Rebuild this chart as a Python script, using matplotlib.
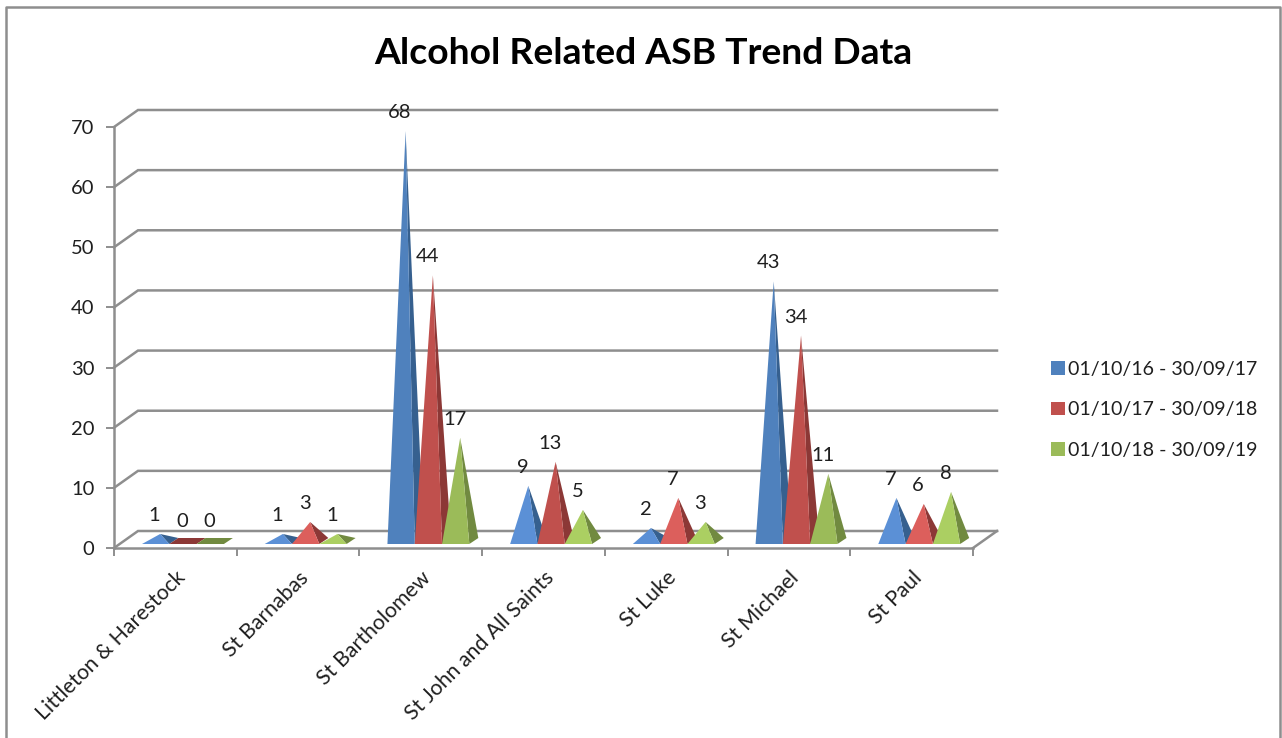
import matplotlib
matplotlib.use('Agg')
import matplotlib.pyplot as plt
from matplotlib.lines import Line2D
from matplotlib.patches import Patch, Polygon

plt.rcParams['font.family'] = ['Lato', 'DejaVu Sans']

#___Datos
categories = ['Littleton & Harestock', 'St Barnabas', 'St Bartholomew',
              'St John and All Saints', 'St Luke', 'St Michael', 'St Paul']
series_names = ['01/10/16 - 30/09/17', '01/10/17 - 30/09/18', '01/10/18 - 30/09/19']
values_1617 = [1, 1, 68, 9, 2, 43, 7]
values_1718 = [0, 3, 44, 13, 7, 34, 6]
values_1819 = [0, 1, 17, 5, 3, 11, 8]
y_ticks = [0, 10, 20, 30, 40, 50, 60, 70]

#___Colores: base, claro (piramides pequenas), lado
blue = ('#4f81bd', '#5b90d6', '#36608f')
red = ('#c0504d', '#dc5f5c', '#8c3836')
green = ('#9bbb59', '#abcf62', '#718a40')
grid_color = '#8e8e8e'
text_color = '#1f1f1f'

W, H = 1282, 738
fig = plt.figure(figsize=(W / 100, H / 100), dpi=100, facecolor='white')

# ejes sobre la pared frontal, en pixeles de la imagen
x0, x1, y0, y1 = 114, 973, 548, 127
ax = fig.add_axes([x0 / W, 1 - y0 / H, (x1 - x0) / W, (y0 - y1) / H])
ax.set_xlim(0, 7)
ax.set_ylim(0, 70)
ax.patch.set_visible(False)

px = 7 / (x1 - x0)    # un pixel en unidades de categoria
py = 70 / (y0 - y1)   # un pixel en unidades de valor
depth_x, depth_y = 24 * px, 17 * py

#___Pared del fondo
for t in y_ticks:
    ax.plot([0, depth_x, 7 + depth_x], [t, t + depth_y, t + depth_y], color=grid_color,
            lw=1.8, clip_on=False, zorder=1, solid_joinstyle='miter')
ax.plot([7, 7 + depth_x], [0, depth_y], color=grid_color, lw=1.8, clip_on=False, zorder=1)

#___Piramides
width = 27.3 * px
start = 28 * px
front_y = 4 * py     # borde frontal de la base sobre el eje
center_y = 8 * py    # centro de la base
side_x, side_y = 9 * px, 6 * py


def pyramid(left, value, colors):
    right = left + width
    apex_x = left + width / 2 + 4.5 * px
    apex_y = value + center_y
    back = (right + side_x, front_y + side_y)
    front_color = colors[1] if value < 10 else colors[0]
    if value == 0:
        # sin altura: solo la base plana
        ax.add_patch(Polygon([(left, front_y), (right, front_y), back,
                              (left + side_x, front_y + side_y)],
                             fc=colors[2], ec='none', clip_on=False, zorder=3))
        return apex_x, apex_y
    ax.add_patch(Polygon([(right, front_y), back, (apex_x, apex_y)],
                         fc=colors[2], ec='none', clip_on=False, zorder=3))
    ax.add_patch(Polygon([(left, front_y), (right, front_y), (apex_x, apex_y)],
                         fc=front_color, ec='none', clip_on=False, zorder=3))
    return apex_x, apex_y


labels = []
for i in range(len(categories)):
    for j, (vals, colors) in enumerate([(values_1617, blue), (values_1718, red), (values_1819, green)]):
        ax_, ay_ = pyramid(i + start + j * width, vals[i], colors)
        labels.append((ax_, ay_, vals[i]))

for lx, ly, v in labels:
    ax.text(lx - 5.5 * px, ly + 18.5 * py, str(v), ha='center', va='center', fontsize=14.5,
            color=text_color, zorder=5, clip_on=False)

#___Ejes
for s in ('top', 'right'):
    ax.spines[s].set_visible(False)
for s in ('left', 'bottom'):
    ax.spines[s].set_color(grid_color)
    ax.spines[s].set_linewidth(1.8)
    ax.spines[s].set_zorder(2)

ax.set_yticks(y_ticks)
ax.set_xticks(range(8))
ax.set_xticklabels([])
ax.set_xticks([i + 0.5 for i in range(7)], minor=True)
ax.set_xticklabels(categories, minor=True, rotation=45, ha='right', rotation_mode='anchor',
                   fontsize=15.3, color=text_color)
ax.tick_params(axis='both', which='major', color=grid_color, width=1.4, length=6, direction='out')
ax.tick_params(axis='y', labelsize=14.5, labelcolor=text_color, pad=8)
ax.tick_params(axis='x', which='minor', length=0, pad=14)

#___Titulo
fig.text(643.5 / W, 1 - 54 / H, 'Alcohol Related ASB Trend Data', ha='center', va='center',
         fontsize=26.8, fontweight='bold', color='black')

#___Leyenda
handles = [Patch(fc=c[0], ec='none') for c in (blue, red, green)]
fig.legend(handles, series_names, loc='upper left', bbox_to_anchor=(1051 / W, 1 - 361 / H),
           frameon=False, fontsize=14.1, labelcolor=text_color, handlelength=0.7, handleheight=0.7,
           handletextpad=0.15, labelspacing=1.2, borderpad=0, borderaxespad=0)

#___Marco
frame = Line2D([6 / W, 6 / W, 1280 / W, 1280 / W], [0, 1 - 7 / H, 1 - 7 / H, 0],
               transform=fig.transFigure, color=grid_color, lw=1.8)
fig.add_artist(frame)

fig.savefig('out.png', dpi=100)
